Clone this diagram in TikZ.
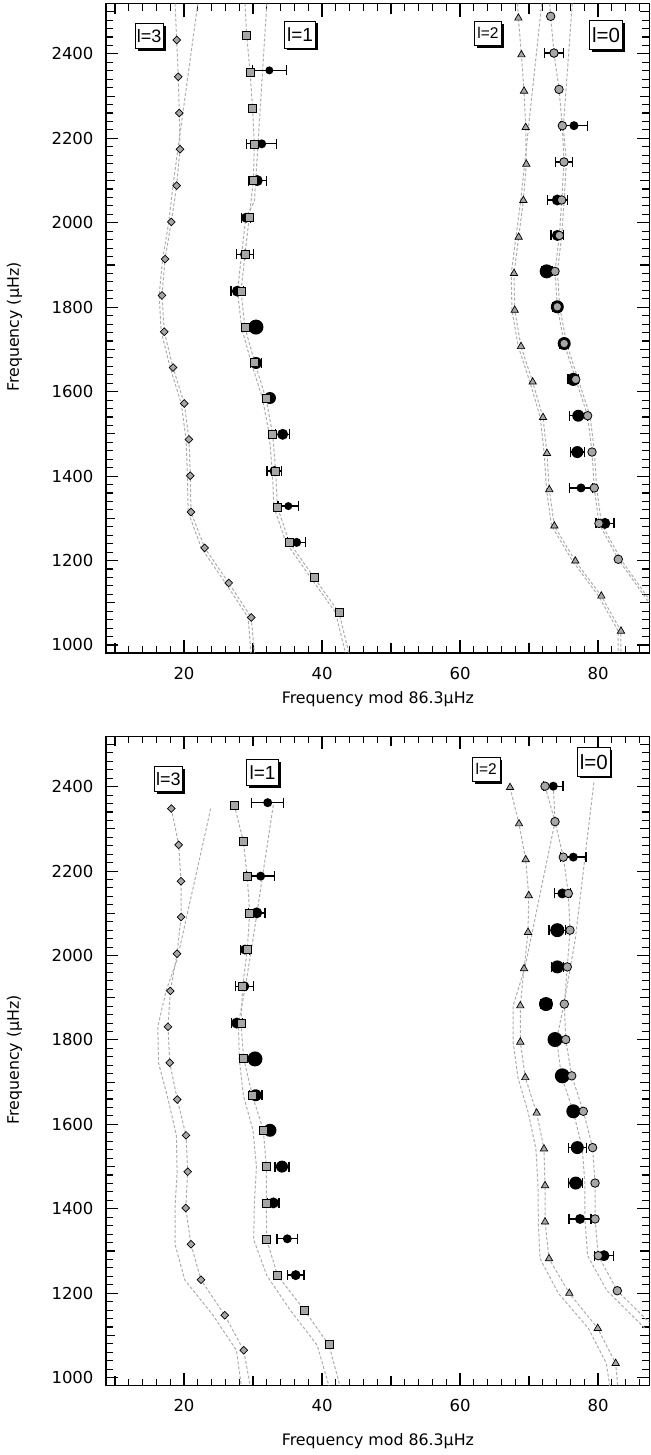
\documentclass[tikz,border=0pt]{standalone}
\usepackage{fontspec}
\setmainfont{DejaVu Sans}
\newfontfamily\boxfont{Liberation Sans}
\usetikzlibrary{shapes.geometric,arrows.meta,shadows}

\definecolor{markgray}{gray}{0.65}
\definecolor{linegray}{gray}{0.68}

\tikzstyle{frame} = [line width=1.4pt]
\tikzstyle{axtick} = [line width=1.1pt]
\tikzstyle{ticklab} = [font=\fontsize{16.5}{17}\selectfont]
\tikzstyle{axlab} = [font=\fontsize{15.8}{16}\selectfont]
\tikzstyle{model} = [draw=linegray, line width=1pt, dash pattern=on 3pt off 2pt]
\tikzstyle{msq} = [rectangle, draw, fill=markgray, line width=0.8pt, inner sep=0pt, minimum size=8pt]
\tikzstyle{mdiam} = [diamond, draw, fill=markgray, line width=0.7pt, inner sep=0pt, minimum size=8pt]
\tikzstyle{mtri} = [regular polygon, regular polygon sides=3, draw, fill=markgray, line width=0.7pt, inner sep=0pt, minimum size=8.5pt]
\tikzstyle{mcirc} = [circle, draw, fill=markgray, line width=0.8pt, inner sep=0pt, minimum size=8.5pt]
\tikzstyle{errbar} = [line width=1.3pt, {Bar[width=10pt]}-{Bar[width=10pt]}]
\tikzstyle{lbox} = [draw, fill=white, line width=0.9pt, inner sep=0pt, drop shadow={shadow xshift=2.5pt, shadow yshift=-2.5pt, fill=black, opacity=1}]

\begin{document}
\begin{tikzpicture}[x=1pt,y=1pt]
\useasboundingbox (0,0) rectangle (650,1455);

% axes of both panels
\foreach \ys/\lab in {387.8/872,-344.9/849}{
\begin{scope}[xshift=46pt, yshift=\ys pt, x=6.9pt, y=0.4222pt]
  \draw[frame] (8.7,981) rectangle (87.45,2519);
  \foreach \t in {10,12,...,86}{
    \pgfmathsetmacro\len{mod(\t,20)==0 ? 13 : (mod(\t,10)==0 ? 10 : 7)}
    \draw[axtick] (\t,981) -- ++(0,\len pt) (\t,2519) -- ++(0,-\len pt);
  }
  \foreach \f in {1000,1020,...,2500}{
    \pgfmathsetmacro\len{mod(\f,200)==0 ? 12 : (mod(\f,100)==0 ? 9 : 7)}
    \draw[axtick] (8.7,\f) -- ++(\len pt,0) (87.45,\f) -- ++(-\len pt,0);
  }
  \foreach \t in {20,40,60,80}
    \node[ticklab, yshift=-20pt] at (\t,981) {\t};
  \foreach \f in {1000,1200,...,2400}
    \node[ticklab, anchor=east, xshift=-9pt] at (8.7,\f) {\f};
  \node[axlab] at (48.1,\lab) {Frequency mod 86.3μHz};
  \node[axlab, rotate=90] at (-4.57,1753) {Frequency (μHz)};
\end{scope}
}

% upper panel
\begin{scope}[xshift=46pt, yshift=387.8pt, x=6.9pt, y=0.4222pt]
  \begin{scope}
    \clip (8.7,981) rectangle (87.45,2519);
    % l=3
    \draw[model] plot coordinates {(18.7,2519) (18.94,2433) (19.17,2346) (19.32,2260) (19.42,2174) (18.94,2088) (18.16,2002) (17.25,1914) (16.81,1828) (17.14,1742) (18.41,1657) (20.04,1572) (20.72,1487) (20.91,1401) (21.01,1315) (23.0,1230) (26.48,1147) (29.75,1065) (30.2,981)};
    \draw[model] plot coordinates {(22.0,2519) (18.4,2088) (17.8,2002) (16.9,1914) (16.4,1828) (16.7,1742) (18.0,1657) (19.6,1572) (20.3,1487) (20.5,1401) (20.6,1315) (22.5,1230) (26.0,1147) (29.3,1065) (29.7,981)};
    % l=1
    \draw[model] plot coordinates {(28.84,2519) (29.09,2444) (29.57,2357) (29.95,2271) (30.19,2186) (30.05,2100) (29.46,2013) (28.84,1925) (28.26,1838) (28.84,1752) (30.24,1669) (31.88,1584) (32.85,1499) (33.29,1412) (33.53,1327) (35.27,1243) (38.84,1160) (42.46,1077) (43.9,981)};
    \draw[model] plot coordinates {(32.0,2519) (30.2,2050) (28.96,2013) (28.34,1925) (27.76,1838) (28.34,1752) (29.74,1669) (31.38,1584) (32.35,1499) (32.79,1412) (33.03,1327) (34.77,1243) (38.34,1160) (41.96,1077) (43.4,981)};
    % l=2
    \draw[model] plot coordinates {(68.35,2519) (68.46,2485) (68.9,2398) (69.28,2312) (69.52,2226) (69.61,2139) (69.18,2053) (68.5,1966) (67.83,1880) (67.93,1793) (68.84,1707) (70.53,1623) (72.03,1539) (72.6,1454) (72.94,1368) (73.67,1282) (76.71,1199) (80.48,1116) (83.33,1033) (83.33,981)};
    \draw[model] plot coordinates {(71.84,2519) (68.8,2053) (68.1,1966) (67.43,1880) (67.53,1793) (68.44,1707) (70.13,1623) (71.63,1539) (72.2,1454) (72.54,1368) (73.27,1282) (76.31,1199) (80.08,1116) (82.93,1033) (82.93,981)};
    % l=0
    \draw[model] plot coordinates {(73.0,2519) (73.14,2489) (73.62,2402) (74.35,2316) (74.83,2230) (75.07,2144) (74.74,2054) (74.4,1970) (73.77,1885) (74.1,1801) (75.1,1714) (76.77,1629) (78.5,1543) (79.13,1457) (79.46,1372) (80.14,1288) (82.94,1203) (88.5,1075)};
    \draw[model] plot coordinates {(76.27,2519) (74.97,2226) (75.42,2144) (75.09,2054) (74.75,1970) (74.12,1885) (74.45,1801) (75.45,1714) (77.12,1629) (78.85,1543) (79.48,1457) (79.81,1372) (80.49,1288) (83.29,1203) (88.85,1075)};
  \end{scope}
  % observed modes
  \foreach \x/\f/\e/\r in {32.37/2361/2.54/4, 31.26/2187/2.25/4.5, 30.62/2100/1.4/5.5, 28.99/2012/0.72/5, 28.84/1925/1.3/5, 27.73/1838/1.0/5.5, 30.43/1753/0.3/7.5, 30.43/1668/0.9/6, 32.46/1585/0.5/6, 34.3/1499/1.1/5.5, 33.1/1412/1.15/5, 35.12/1329/1.6/4, 36.33/1243/1.4/4.5,
      73.62/2402/1.45/4.5, 76.52/2230/2.05/4.5, 75.07/2144/1.33/4.5, 74.1/2054/1.55/5.5, 74.1/1970/1.0/5.5, 72.56/1885/0.85/7, 74.1/1801/0.7/6.5, 75.1/1714/0.7/6.5, 76.42/1629/0.85/6.5, 77.14/1543/1.4/6, 77.0/1457/1.1/6, 77.54/1372/1.75/4.5, 81.0/1288/1.4/5.5}{
    \draw[errbar] (\x-\e,\f) -- (\x+\e,\f);
    \fill (\x,\f) circle (\r pt);
  }
  % model modes
  \foreach \x/\f in {18.94/2433, 19.17/2346, 19.32/2260, 19.42/2174, 18.94/2088, 18.16/2002, 17.25/1914, 16.81/1828, 17.14/1742, 18.41/1657, 20.04/1572, 20.72/1487, 20.91/1401, 21.01/1315, 23.0/1230, 26.48/1147, 29.75/1065}
    \node[mdiam] at (\x,\f) {};
  \foreach \x/\f in {29.09/2444, 29.57/2357, 29.95/2271, 30.19/2186, 30.05/2100, 29.46/2013, 28.84/1925, 28.26/1838, 28.84/1752, 30.24/1669, 31.88/1584, 32.85/1499, 33.29/1412, 33.53/1327, 35.27/1243, 38.84/1160, 42.46/1077}
    \node[msq] at (\x,\f) {};
  \foreach \x/\f in {68.46/2485, 68.9/2398, 69.28/2312, 69.52/2226, 69.61/2139, 69.18/2053, 68.5/1966, 67.83/1880, 67.93/1793, 68.84/1707, 70.53/1623, 72.03/1539, 72.6/1454, 72.94/1368, 73.67/1282, 76.71/1199, 80.48/1116, 83.33/1033}
    \node[mtri] at (\x,\f) {};
  \foreach \x/\f in {73.14/2489, 73.62/2402, 74.35/2316, 74.83/2230, 75.07/2144, 74.74/2054, 74.4/1970, 73.77/1885, 74.1/1801, 75.1/1714, 76.77/1629, 78.5/1543, 79.13/1457, 79.46/1372, 80.14/1288, 82.94/1203}
    \node[mcirc] at (\x,\f) {};
  % degree labels
  \node[lbox, minimum width=28pt, minimum height=25pt, font=\boxfont\fontsize{18}{18}\selectfont] (up-l3) at (14.93,2442) {l=3};
  \node[lbox, minimum width=31pt, minimum height=27pt, font=\boxfont\fontsize{19}{19}\selectfont] (up-l1) at (36.81,2446) {l=1};
  \node[lbox, minimum width=27.5pt, minimum height=24pt, font=\boxfont\fontsize{15.5}{16}\selectfont] (up-l2) at (64.06,2449) {l=2};
  \node[lbox, minimum width=33.5pt, minimum height=29pt, font=\boxfont\fontsize{20.5}{21}\selectfont] (up-l0) at (81.16,2445) {l=0};
\end{scope}

% lower panel
\begin{scope}[xshift=46pt, yshift=-344.9pt, x=6.9pt, y=0.4222pt]
  \begin{scope}
    \clip (8.7,981) rectangle (87.45,2519);
    % l=3
    \draw[model] plot coordinates {(18.16,2348) (19.23,2262) (19.57,2176) (19.57,2091) (18.99,2004) (18.02,1916) (17.68,1831) (17.93,1746) (19.03,1659) (20.29,1574) (20.54,1488) (20.25,1402) (21.01,1316) (22.46,1232) (25.9,1148) (28.65,1065) (29.6,981)};
    \draw[model] plot coordinates {(23.87,2348) (19.0,1990) (17.4,1916) (16.2,1831) (16.3,1746) (17.7,1659) (18.9,1574) (19.0,1488) (18.7,1402) (18.7,1316) (20.1,1232) (24.2,1148) (27.6,1065) (28.3,981)};
    % l=1
    \draw[model] plot coordinates {(27.29,2356) (28.6,2271) (29.17,2187) (29.52,2100) (29.17,2014) (28.5,1927) (28.26,1840) (28.65,1756) (29.9,1669) (31.5,1586) (31.93,1500) (31.93,1414) (31.98,1327) (33.57,1242) (37.44,1160) (41.0,1078) (42.6,981)};
    \draw[model] plot coordinates {(32.94,2356) (30.0,2038) (28.9,1927) (27.9,1840) (28.0,1756) (28.6,1669) (30.0,1586) (30.5,1500) (30.2,1414) (30.1,1327) (32.0,1242) (35.4,1160) (39.3,1077) (41.0,981)};
    % l=2
    \draw[model] plot coordinates {(67.25,2398) (68.55,2312) (69.52,2227) (69.96,2142) (69.86,2055) (69.28,1969) (68.74,1881) (68.74,1795) (69.46,1711) (71.11,1627) (72.17,1542) (72.32,1455) (72.32,1369) (72.9,1282) (75.84,1200) (79.96,1117) (82.56,1034) (82.86,981)};
    \draw[model] plot coordinates {(73.52,2401) (73.77,2317) (69.4,1971) (67.7,1881) (67.7,1795) (68.4,1711) (69.9,1627) (71.0,1542) (71.3,1455) (71.35,1369) (71.6,1282) (74.25,1200) (78.6,1117) (81.2,1034) (81.7,981)};
    % l=0
    \draw[model] plot coordinates {(72.32,2401) (73.77,2317) (74.97,2233) (75.7,2147) (75.94,2060) (75.55,1973) (75.12,1885) (75.32,1801) (76.19,1715) (77.87,1631) (79.22,1545) (79.57,1461) (79.57,1376) (80.04,1289) (82.8,1206) (88.5,1114)};
    \draw[model] plot coordinates {(79.4,2410) (76.7,2038) (75.1,1888) (74.0,1801) (74.7,1715) (76.4,1631) (77.7,1545) (78.1,1461) (78.1,1376) (78.5,1289) (81.3,1206) (87.0,1114)};
  \end{scope}
  % observed modes
  \foreach \x/\f/\e/\r in {32.13/2362/2.42/4.5, 31.11/2188/2.12/4.5, 30.54/2101/1.3/5.5, 28.84/2014/0.72/5, 28.74/1927/1.38/5, 27.64/1840/0.9/5.5, 30.29/1755/0.3/7.5, 30.39/1669/1.0/6, 32.46/1586/0.5/6.5, 34.2/1500/1.1/6, 32.95/1414/0.9/5.5, 34.97/1329/1.6/4.5, 36.19/1243/1.28/5,
      73.52/2401/1.52/4.5, 76.42/2233/1.93/4.5, 74.83/2147/1.26/5, 74.1/2060/1.3/7, 74.1/1973/0.97/6.5, 72.46/1885/0.92/7, 73.77/1801/0.5/7.5, 74.83/1715/0.5/7.5, 76.42/1631/0.7/7, 77.0/1545/1.4/6.5, 76.77/1461/1.1/6.5, 77.39/1376/1.7/5, 80.87/1289/1.43/5.5}{
    \draw[errbar] (\x-\e,\f) -- (\x+\e,\f);
    \fill (\x,\f) circle (\r pt);
  }
  % model modes
  \foreach \x/\f in {18.16/2348, 19.23/2262, 19.57/2176, 19.57/2091, 18.99/2004, 18.02/1916, 17.68/1831, 17.93/1746, 19.03/1659, 20.29/1574, 20.54/1488, 20.25/1402, 21.01/1316, 22.46/1232, 25.9/1148, 28.65/1065}
    \node[mdiam] at (\x,\f) {};
  \foreach \x/\f in {27.29/2356, 28.6/2271, 29.17/2187, 29.52/2100, 29.17/2014, 28.5/1927, 28.26/1840, 28.65/1756, 29.9/1669, 31.5/1586, 31.93/1500, 31.93/1414, 31.98/1327, 33.57/1242, 37.44/1160, 41.0/1078}
    \node[msq] at (\x,\f) {};
  \foreach \x/\f in {67.25/2398, 68.55/2312, 69.52/2227, 69.96/2142, 69.86/2055, 69.28/1969, 68.74/1881, 68.74/1795, 69.46/1711, 71.11/1627, 72.17/1542, 72.32/1455, 72.32/1369, 72.9/1282, 75.84/1200, 79.96/1117, 82.56/1034}
    \node[mtri] at (\x,\f) {};
  \foreach \x/\f in {72.32/2401, 73.77/2317, 74.97/2233, 75.7/2147, 75.94/2060, 75.55/1973, 75.12/1885, 75.32/1801, 76.19/1715, 77.87/1631, 79.22/1545, 79.57/1461, 79.57/1376, 80.04/1289, 82.8/1206}
    \node[mcirc] at (\x,\f) {};
  % degree labels
  \node[lbox, minimum width=28.5pt, minimum height=25pt, font=\boxfont\fontsize{18}{18}\selectfont] (lo-l3) at (17.72,2419) {l=3};
  \node[lbox, minimum width=31.5pt, minimum height=26.5pt, font=\boxfont\fontsize{19}{19}\selectfont] (lo-l1) at (31.38,2433) {l=1};
  \node[lbox, minimum width=27.5pt, minimum height=23.5pt, font=\boxfont\fontsize{15.5}{16}\selectfont] (lo-l2) at (63.8,2441) {l=2};
  \node[lbox, minimum width=32.5pt, minimum height=28.5pt, font=\boxfont\fontsize{20.5}{21}\selectfont] (lo-l0) at (79.38,2459) {l=0};
\end{scope}
\end{tikzpicture}
\end{document}
